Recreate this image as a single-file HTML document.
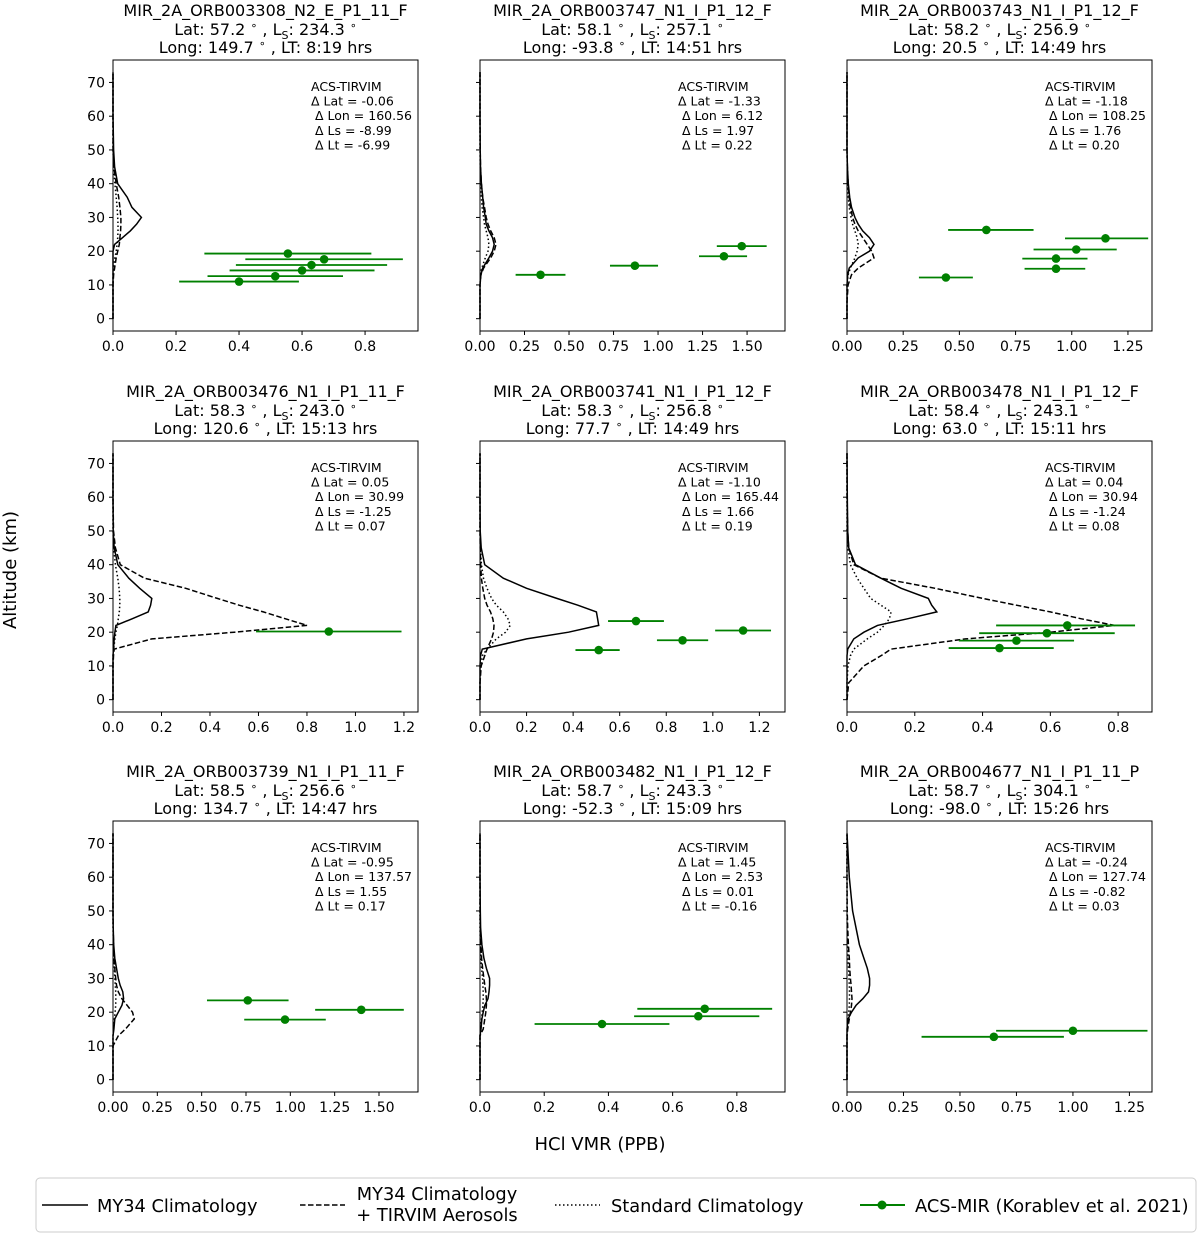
<!DOCTYPE html>
<html><head><meta charset="utf-8">
<style>
html,body{margin:0;padding:0;background:#fff;}
svg{display:block;font-family:"DejaVu Sans","Liberation Sans",sans-serif;}
</style></head>
<body>
<svg id="fig" width="1200" height="1235" viewBox="0 0 1200 1235" xmlns="http://www.w3.org/2000/svg">
<text x="16" y="570" font-size="18" text-anchor="middle" transform="rotate(-90 16 570)">Altitude (km)</text>
<text x="600" y="1150" font-size="18" text-anchor="middle">HCl VMR (PPB)</text>
<g>
<rect x="36" y="1178" width="1160" height="54" rx="4" fill="#fff" stroke="#ccc" stroke-width="1"/>
<g><line x1="42" y1="1205" x2="88" y2="1205" stroke="#000" stroke-width="1.5"/><text x="97" y="1212" font-size="17.8">MY34 Climatology</text></g>
<g><line x1="300" y1="1205" x2="345" y2="1205" stroke="#000" stroke-width="1.5" stroke-dasharray="5.5,2.5"/><text x="437" y="1200" font-size="17.8" text-anchor="middle">MY34 Climatology</text><text x="437" y="1221" font-size="17.8" text-anchor="middle">+ TIRVIM Aerosols</text></g>
<g><line x1="555" y1="1205" x2="600" y2="1205" stroke="#000" stroke-width="1.5" stroke-dasharray="1.5,2.5"/><text x="611" y="1212" font-size="17.8">Standard Climatology</text></g>
<g><line x1="860" y1="1205" x2="905" y2="1205" stroke="#008000" stroke-width="2"/><circle cx="882" cy="1205" r="4.5" fill="#008000"/><text x="915" y="1212" font-size="17.8">ACS-MIR (Korablev et al. 2021)</text></g>
</g>
</svg>
<script>
// shared altitude grid (km) for profile curves
const alts = [0,5,10,13,15,18,20,22,24,26,28,30,33,36,40,45,50,60,73];
const yTicks = [0,10,20,30,40,50,60,70];

const titles = [
 ["MIR_2A_ORB003308_N2_E_P1_11_F","57.2","234.3","149.7","8:19"],
 ["MIR_2A_ORB003747_N1_I_P1_12_F","58.1","257.1","-93.8","14:51"],
 ["MIR_2A_ORB003743_N1_I_P1_12_F","58.2","256.9","20.5","14:49"],
 ["MIR_2A_ORB003476_N1_I_P1_11_F","58.3","243.0","120.6","15:13"],
 ["MIR_2A_ORB003741_N1_I_P1_12_F","58.3","256.8","77.7","14:49"],
 ["MIR_2A_ORB003478_N1_I_P1_12_F","58.4","243.1","63.0","15:11"],
 ["MIR_2A_ORB003739_N1_I_P1_11_F","58.5","256.6","134.7","14:47"],
 ["MIR_2A_ORB003482_N1_I_P1_12_F","58.7","243.3","-52.3","15:09"],
 ["MIR_2A_ORB004677_N1_I_P1_11_P","58.7","304.1","-98.0","15:26"]
];
const deltas = [
 ["-0.06","160.56","-8.99","-6.99"],["-1.33","6.12","1.97","0.22"],["-1.18","108.25","1.76","0.20"],
 ["0.05","30.99","-1.25","0.07"],["-1.10","165.44","1.66","0.19"],["0.04","30.94","-1.24","0.08"],
 ["-0.95","137.57","1.55","0.17"],["1.45","2.53","0.01","-0.16"],["-0.24","127.74","-0.82","0.03"]
];
const xMax = [0.968,1.713,1.357,1.258,1.31,0.90,1.72,0.95,1.35];
const xTickLabels = [
 ["0.0","0.2","0.4","0.6","0.8"],
 ["0.00","0.25","0.50","0.75","1.00","1.25","1.50"],
 ["0.00","0.25","0.50","0.75","1.00","1.25"],
 ["0.0","0.2","0.4","0.6","0.8","1.0","1.2"],
 ["0.0","0.2","0.4","0.6","0.8","1.0","1.2"],
 ["0.0","0.2","0.4","0.6","0.8"],
 ["0.00","0.25","0.50","0.75","1.00","1.25","1.50"],
 ["0.0","0.2","0.4","0.6","0.8"],
 ["0.00","0.25","0.50","0.75","1.00","1.25"]
];
// MY34 climatology (solid), values at alts
const solid = [
 [0,0,0,0,0,0,0,0.005,0.03,0.055,0.075,0.09,0.06,0.045,0.015,0.005,0.002,0,0],
 [0,0,0,0.005,0.015,0.05,0.07,0.08,0.07,0.05,0.035,0.03,0.02,0.015,0.008,0.003,0.001,0,0],
 [0,0,0,0.003,0.01,0.05,0.1,0.12,0.1,0.07,0.05,0.035,0.02,0.012,0.006,0.002,0,0,0],
 [0,0,0,0,0.002,0.005,0.008,0.012,0.08,0.145,0.155,0.16,0.11,0.065,0.02,0.005,0.001,0,0],
 [0,0,0,0.002,0.01,0.2,0.38,0.51,0.505,0.5,0.42,0.33,0.2,0.1,0.02,0.005,0.001,0,0],
 [0,0,0,0,0.002,0.02,0.05,0.09,0.18,0.265,0.25,0.24,0.16,0.1,0.025,0.005,0.002,0.001,0],
 [0,0,0,0,0.005,0.01,0.03,0.05,0.06,0.055,0.04,0.03,0.02,0.01,0.004,0.001,0,0,0],
 [0,0,0,0,0.003,0.006,0.01,0.015,0.025,0.028,0.03,0.03,0.02,0.012,0.006,0.002,0.001,0,0],
 [0,0,0,0,0,0.005,0.02,0.04,0.07,0.095,0.1,0.1,0.09,0.075,0.055,0.04,0.025,0.01,0]
];
// MY34 + TIRVIM aerosols (dashed)
const dashed = [
 [0,0,0,0.002,0.005,0.01,0.015,0.02,0.022,0.024,0.025,0.025,0.022,0.018,0.01,0.003,0,0,0],
 [0,0,0,0.005,0.02,0.06,0.08,0.09,0.08,0.06,0.045,0.035,0.025,0.015,0.008,0.003,0.001,0,0],
 [0,0,0.005,0.02,0.05,0.12,0.11,0.09,0.07,0.05,0.035,0.025,0.015,0.01,0.005,0.002,0,0,0],
 [0,0,0,0.002,0.005,0.16,0.5,0.8,0.71,0.62,0.52,0.43,0.3,0.13,0.03,0.01,0.002,0,0],
 [0,0,0.005,0.02,0.03,0.05,0.058,0.06,0.055,0.045,0.03,0.02,0.012,0.006,0.003,0.001,0,0,0],
 [0,0.005,0.05,0.1,0.13,0.35,0.6,0.79,0.69,0.6,0.5,0.4,0.26,0.1,0.02,0.005,0.002,0,0],
 [0,0,0,0.03,0.07,0.12,0.11,0.08,0.05,0.03,0.02,0.015,0.01,0.006,0.003,0.001,0,0,0],
 [0,0,0,0,0.01,0.015,0.018,0.02,0.02,0.018,0.015,0.012,0.008,0.005,0.003,0.001,0,0,0],
 [0,0,0,0,0.003,0.01,0.015,0.02,0.022,0.02,0.018,0.015,0.012,0.01,0.006,0.003,0.001,0,0]
];
// standard climatology (dotted)
const dotted = [
 [0,0,0,0,0.002,0.006,0.01,0.013,0.015,0.016,0.016,0.015,0.013,0.01,0.006,0.002,0,0,0],
 [0,0,0,0.002,0.01,0.03,0.045,0.05,0.045,0.035,0.025,0.02,0.012,0.008,0.004,0.001,0,0,0],
 [0,0,0,0.005,0.015,0.035,0.045,0.05,0.045,0.035,0.025,0.018,0.01,0.006,0.003,0.001,0,0,0],
 [0,0,0,0,0.003,0.008,0.012,0.018,0.022,0.026,0.028,0.028,0.025,0.02,0.01,0.003,0,0,0],
 [0,0,0.003,0.01,0.03,0.07,0.11,0.13,0.12,0.1,0.07,0.05,0.03,0.015,0.006,0.002,0,0,0],
 [0,0,0.003,0.01,0.02,0.06,0.09,0.11,0.125,0.13,0.1,0.07,0.05,0.03,0.01,0.003,0,0,0],
 [0,0,0,0,0.003,0.008,0.012,0.015,0.016,0.015,0.013,0.01,0.008,0.005,0.002,0,0,0,0],
 [0,0,0,0,0.002,0.005,0.007,0.009,0.01,0.01,0.009,0.008,0.005,0.003,0.001,0,0,0,0],
 [0,0,0,0,0.002,0.005,0.008,0.01,0.011,0.011,0.01,0.009,0.007,0.005,0.003,0.001,0,0,0]
];
// ACS-MIR points: value, altitude, lower err end, upper err end
const mirVal = [
 [0.555,0.67,0.63,0.60,0.515,0.40],
 [0.34,0.87,1.37,1.47],
 [0.62,1.15,1.02,0.93,0.93,0.44],
 [0.89],
 [0.51,0.67,0.87,1.13],
 [0.65,0.59,0.50,0.45],
 [0.76,1.40,0.97],
 [0.70,0.68,0.38],
 [1.00,0.65]
];
const mirAlt = [
 [19.3,17.6,15.9,14.3,12.6,11.0],
 [13.0,15.7,18.5,21.5],
 [26.3,23.8,20.5,17.8,14.8,12.2],
 [20.2],
 [14.7,23.3,17.6,20.5],
 [22.0,19.7,17.5,15.3],
 [23.5,20.7,17.8],
 [21.0,18.8,16.5],
 [14.5,12.7]
];
const mirLo = [
 [0.29,0.42,0.39,0.37,0.30,0.21],
 [0.20,0.73,1.23,1.33],
 [0.45,0.97,0.83,0.78,0.79,0.32],
 [0.59],
 [0.41,0.55,0.76,1.01],
 [0.44,0.39,0.33,0.30],
 [0.53,1.14,0.74],
 [0.49,0.48,0.17],
 [0.66,0.33]
];
const mirHi = [
 [0.82,0.92,0.87,0.83,0.73,0.59],
 [0.48,1.00,1.50,1.61],
 [0.83,1.34,1.20,1.07,1.06,0.56],
 [1.19],
 [0.60,0.79,0.98,1.25],
 [0.85,0.79,0.67,0.61],
 [0.99,1.64,1.20],
 [0.91,0.87,0.59],
 [1.33,0.96]
];

const NS = "http://www.w3.org/2000/svg";
const svg = document.getElementById('fig');
const colX = [113,480,847], rowY = [60,441,821], PW = 305, PH = 271;
const yMin = -3.65, yMax = 76.65;
function mk(tag, attrs, parent){ const e=document.createElementNS(NS,tag); for(const k in attrs) e.setAttribute(k,attrs[k]); (parent||svg).appendChild(e); return e; }
function addSpans(textEl, parts){ parts.forEach(pt=>{ const s=mk('tspan',{dy:pt[1]},textEl); if(pt[2]) s.setAttribute('font-size',pt[2]); s.textContent=pt[0]; }); }

for(let p=0;p<9;p++){
  const x0 = colX[p%3], y0 = rowY[Math.floor(p/3)];
  const xs = v => x0 + v/xMax[p]*PW;
  const ys = a => y0 + (yMax-a)/(yMax-yMin)*PH;
  const g = mk('g',{});
  
  
  const t = titles[p], cx = x0+PW/2;
  const t1 = mk('text',{x:cx,y:y0-44,'font-size':16,'text-anchor':'middle'},g); t1.textContent=t[0];
  
  
  const t2 = mk('text',{x:cx,y:y0-25,'font-size':16,'text-anchor':'middle','xml:space':'preserve'},g);
  
  
  addSpans(t2, [['Lat: '+t[1]+' ',0],['\u2218',-6,11],[' , L',6],['S',4,11],[': '+t[2]+' ',-4],['\u2218',-6,11]]);
  const t3 = mk('text',{x:cx,y:y0-7,'font-size':16,'text-anchor':'middle','xml:space':'preserve'},g);
  
  
  addSpans(t3, [['Long: '+t[3]+' ',0],['\u2218',-6,11],[' , LT: '+t[4]+' hrs',6]]);
  mk('rect',{x:x0,y:y0,width:PW,height:PH,fill:'none',stroke:'#000','stroke-width':1},g);
  yTicks.forEach(v=>{
    const y=ys(v);
    mk('line',{x1:x0-4,y1:y,x2:x0,y2:y,stroke:'#000'},g);
    if(p%3===0){ const tt=mk('text',{x:x0-8,y:y+5,'font-size':14,'text-anchor':'end'},g); tt.textContent=v; }
  });
  xTickLabels[p].forEach(l=>{
    const x=xs(parseFloat(l));
    mk('line',{x1:x,y1:y0+PH,x2:x,y2:y0+PH+4,stroke:'#000'},g);
    const tt=mk('text',{x:x,y:y0+PH+20,'font-size':14,'text-anchor':'middle'},g); tt.textContent=l;
  });
  const curve=(vals,dash,name)=>{
    const d = alts.map((a,i)=>(i?'L':'M')+xs(vals[i]).toFixed(1)+','+ys(a).toFixed(1)).join('');
    const e = mk('path',{d:d,fill:'none',stroke:'#000','stroke-width':1.5},g);
    if(dash) e.setAttribute('stroke-dasharray',dash);
    
    
  };
  curve(dotted[p],'1.5,2.5','standard-climatology-line');
  curve(dashed[p],'5.5,2.5','my34-aerosols-line');
  curve(solid[p],null,'my34-climatology-line');
  for(let i=0;i<mirVal[p].length;i++){
    const y=ys(mirAlt[p][i]);
    const eb = mk('line',{x1:xs(mirLo[p][i]),y1:y,x2:xs(mirHi[p][i]),y2:y,stroke:'#008000','stroke-width':1.8},g);
    
    
    const c = mk('circle',{cx:xs(mirVal[p][i]),cy:y,r:4.3,fill:'#008000'},g);
    
    
  }
  const dl = deltas[p], ax = x0+198, ay = y0+31;
  const lines = ['ACS-TIRVIM','\u0394 Lat = '+dl[0],'\u0394 Lon = '+dl[1],'\u0394 Ls = '+dl[2],'\u0394 Lt = '+dl[3]];
  const an = mk('text',{x:ax,y:ay,'font-size':12.5},g);
  
  
  lines.forEach((l,i)=>{ const ts=mk('tspan',{x:ax+(i>1?4:0),y:ay+i*14.6},an); ts.textContent=l; });
}
</script>
</body></html>
